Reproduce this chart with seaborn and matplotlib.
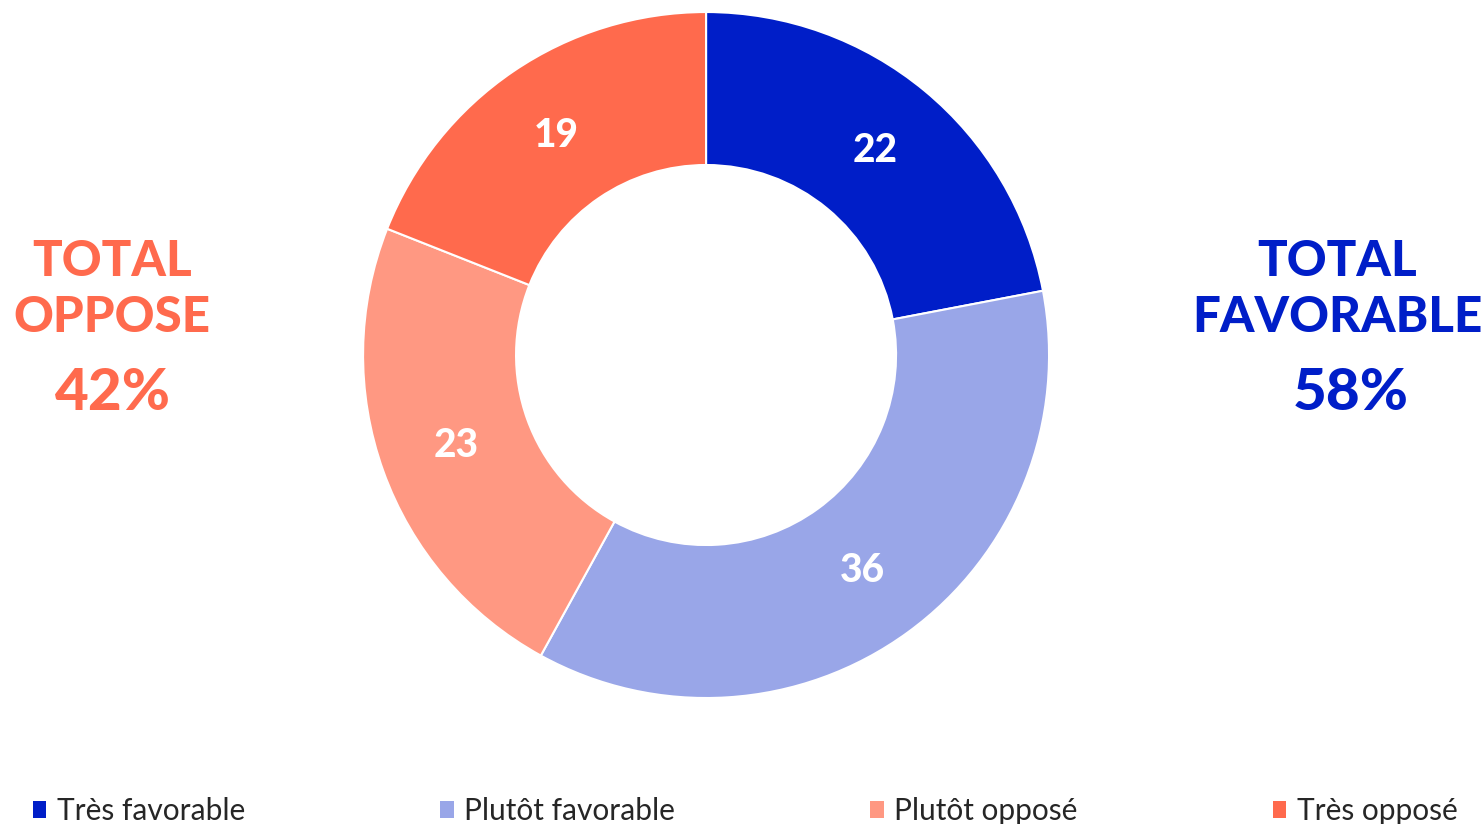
import matplotlib
matplotlib.use("Agg")
import matplotlib.pyplot as plt
import seaborn as sns
from matplotlib.patches import Patch

# Survey data
categories = ["Très favorable", "Plutôt favorable", "Plutôt opposé", "Très opposé"]
values = [22, 36, 23, 19]
total_favorable = 58
total_oppose = 42

colors = ["#001EC8", "#99A6E8", "#FF9882", "#FF6A4D"]
blue = "#001EC8"
orange = "#FF6A4D"

sns.set_theme(style="white")
plt.rcParams["font.family"] = ["Lato", "DejaVu Sans"]

fig = plt.figure(figsize=(14.83, 8.24), dpi=100)
ax = fig.add_axes([0.2448, 0.1529, 0.4626, 0.8325])

wedges, texts = ax.pie(
    values,
    colors=sns.color_palette(colors),
    startangle=90,
    counterclock=False,
    labels=[str(v) for v in values],
    labeldistance=0.775,
    wedgeprops=dict(width=0.446, edgecolor="white", linewidth=1.5),
    textprops=dict(color="white", fontsize=28, fontweight="black", ha="center", va="center"),
)
ax.set_xlim(-1, 1)
ax.set_ylim(-1, 1)
ax.set_aspect("equal")
ax.axis("off")

# side totals
fig.text(0.9016, 0.649, "TOTAL\nFAVORABLE", color=blue, fontsize=35.5, fontweight="black",
         ha="center", va="center", linespacing=1.3)
fig.text(0.911, 0.522, f"{total_favorable}%", color=blue, fontsize=42, fontweight="black",
         ha="center", va="center")
fig.text(0.0755, 0.649, "TOTAL\nOPPOSE", color=orange, fontsize=35.5, fontweight="black",
         ha="center", va="center", linespacing=1.3)
fig.text(0.0762, 0.522, f"{total_oppose}%", color=orange, fontsize=42, fontweight="black",
         ha="center", va="center")

handles = [Patch(facecolor=c, edgecolor="none") for c in colors]
fig.legend(handles, categories, loc="lower left", ncol=4, mode="expand",
           bbox_to_anchor=(0.004, -0.034, 0.997, 0.05), frameon=False,
           fontsize=21.5, handlelength=0.45, handleheight=0.45, handletextpad=0.35)

plt.savefig("out.png", dpi=100)
